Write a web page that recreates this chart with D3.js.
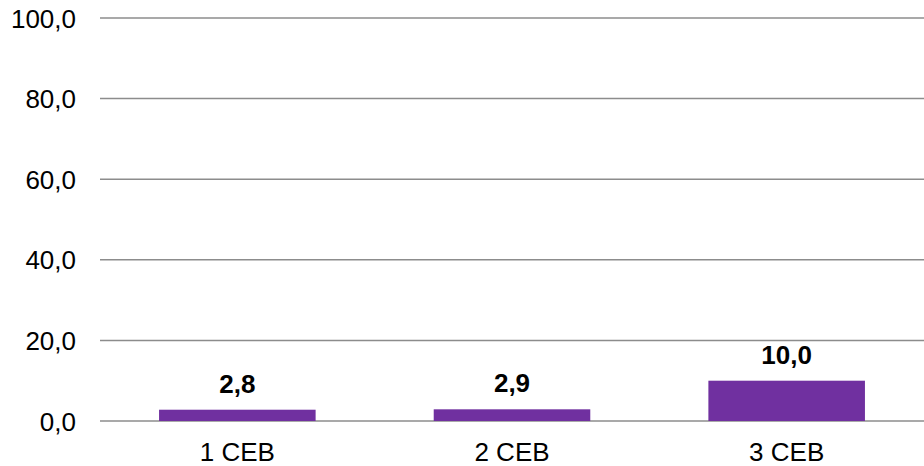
<!DOCTYPE html>
<html><head><meta charset="utf-8">
<script src="https://cdn.jsdelivr.net/npm/d3@7"></script>
<style>body{margin:0;background:#fff}svg{display:block}</style>
</head><body>
<svg id="c" width="924" height="466"></svg>
<script>
const categories = ["1 CEB", "2 CEB", "3 CEB"];
const values = [2.8, 2.9, 10.0];
const yTicks = [0, 20, 40, 60, 80, 100];

(function(){
const svg = d3.select("#c");
const mLeft = 100, mRight = 924, mTop = 18, mBottom = 421;
const x = d3.scaleBand().domain(categories).range([mLeft, mRight]).paddingInner(0.43).paddingOuter(0.215);
const y = d3.scaleLinear().domain([0, 100]).range([mBottom, mTop]);
const fmt = v => v.toFixed(1).replace(".", ",");
const font = "'Liberation Sans', Arial, sans-serif";
const fs = 26;

// gridlines
svg.append("g").selectAll("line").data(yTicks).join("line")
  .attr("x1", mLeft).attr("x2", mRight)
  .attr("y1", d => y(d)).attr("y2", d => y(d))
  .attr("stroke", "#8c8c8c").attr("stroke-width", 1.5);

// y axis labels
const yAxis = d3.axisLeft(y).tickValues(yTicks).tickFormat(fmt).tickSize(0).tickPadding(24);
const ga = svg.append("g").attr("transform", `translate(${mLeft},0)`).call(yAxis);
ga.select(".domain").remove();
ga.selectAll("text").attr("font-family", font).attr("font-size", fs).attr("fill", "#000").attr("dy", "0.35em");

// bars
svg.append("g").selectAll("rect").data(values).join("rect")
  .attr("x", (d, i) => x(categories[i]))
  .attr("width", x.bandwidth())
  .attr("y", d => y(d))
  .attr("height", d => y(0) - y(d))
  .attr("fill", "#7030A0");

// value labels
svg.append("g").selectAll("text").data(values).join("text")
  .attr("x", (d, i) => x(categories[i]) + x.bandwidth() / 2)
  .attr("y", d => y(d) - 17)
  .attr("text-anchor", "middle")
  .attr("font-family", font).attr("font-size", fs).attr("font-weight", "bold")
  .text(fmt);

// x axis labels
const xAxis = d3.axisBottom(x).tickSize(0).tickPadding(0);
const gx = svg.append("g").attr("transform", `translate(0,${mBottom})`).call(xAxis);
gx.select(".domain").remove();
gx.selectAll("text").attr("font-family", font).attr("font-size", fs).attr("fill", "#000")
  .attr("dy", null).attr("y", 40);
})();
</script>
</body></html>
